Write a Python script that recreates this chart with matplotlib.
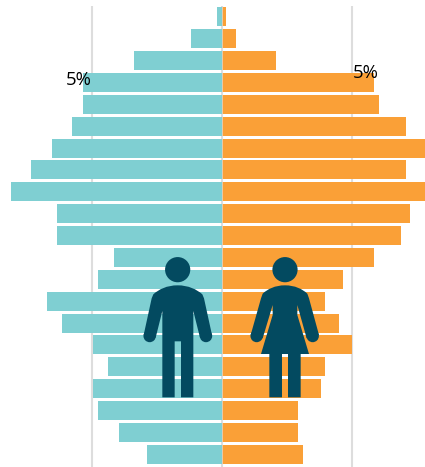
import matplotlib
matplotlib.use("Agg")
import matplotlib.pyplot as plt
from matplotlib.path import Path
from matplotlib.patches import PathPatch, Circle

plt.rcParams["font.family"] = ["Open Sans", "DejaVu Sans"]

# share of population per age band, top row first (percent)
rows = list(range(21))
male = [0.19, 1.18, 3.36, 5.35, 5.35, 5.74, 6.53, 7.33, 8.12, 6.33, 6.33,
        4.15, 4.74, 6.72, 6.14, 4.95, 4.36, 4.95, 4.74, 3.96, 2.88]
female = [0.18, 0.54, 2.09, 5.87, 6.05, 7.08, 8.1, 7.08, 8.3, 7.24, 6.91,
          5.87, 4.67, 3.97, 4.5, 5.0, 3.97, 3.81, 2.94, 2.94, 3.12]
grid_values = [-5, 0, 5]
grid_label = "5%"

TEAL = "#7fcfd2"
ORANGE = "#faa037"
DARK = "#034a60"
GRID = "#dddddd"

fig = plt.figure(figsize=(4.25, 4.67), dpi=100)
ax = fig.add_axes([0, 0, 1, 1])

ax.vlines(grid_values, -0.49, 20.6, color=GRID, linewidth=1.5, zorder=1)
ax.barh(rows, [-v for v in male], height=0.87, color=TEAL, zorder=2)
ax.barh(rows, female, height=0.87, color=ORANGE, zorder=2)
ax.vlines(0, -0.49, 20.6, color=GRID, linewidth=0.5, zorder=3)

ax.set_xlim(-8.527, 7.82)
ax.set_ylim(20.58, -0.768)
ax.axis("off")

ax.text(-5, 2.87, grid_label, ha="right", va="center", fontsize=13.4, color="black", zorder=4)
ax.text(5.03, 2.55, grid_label, ha="left", va="center", fontsize=13.4, color="black", zorder=4)

# overlay in pixel coords for the two person icons
icons = fig.add_axes([0, 0, 1, 1])
icons.set_xlim(0, 425)
icons.set_ylim(467, 0)
icons.axis("off")
icons.patch.set_alpha(0)


def px(p):
    return (p[0] / 3, 235 + p[1] / 3)


def draw_icon(head, outline, hands):
    icons.add_patch(Circle(px(head), 12.6, color=DARK, lw=0))
    for h in hands:
        icons.add_patch(Circle(px(h), 6.2, color=DARK, lw=0))
    verts = []
    codes = []
    for code, pts in outline:
        for p in pts:
            verts.append(px(p))
            codes.append(code)
    verts.append(verts[0])
    codes.append(Path.CLOSEPOLY)
    icons.add_patch(PathPatch(Path(verts, codes), facecolor=DARK, lw=0))


M, L, C = Path.MOVETO, Path.LINETO, Path.CURVE4

man = [
    (M, [(533, 151)]),
    (C, [(565, 151), (590, 163), (607, 178)]),
    (L, [(612, 190), (636, 300), (600, 308), (580, 228), (580, 487), (543, 487),
         (543, 319), (524, 319), (524, 487), (487, 487), (487, 228), (467, 308),
         (431, 300), (455, 190), (460, 178)]),
    (C, [(476, 163), (501, 151), (533, 151)]),
]
draw_icon((533, 104), man, [(618, 303), (449, 303)])

woman = [
    (M, [(855, 151)]),
    (C, [(885, 151), (907, 162), (922, 176)]),
    (L, [(927, 190), (957, 300), (920, 310), (892, 210), (892, 240), (927, 357),
         (902, 357), (902, 487), (864, 487), (864, 357), (846, 357), (846, 487),
         (808, 487), (808, 357), (783, 357), (818, 240), (818, 210), (788, 310),
         (752, 300), (783, 190), (788, 176)]),
    (C, [(803, 162), (825, 151), (855, 151)]),
]
draw_icon((855, 104), woman, [(938, 303), (770, 303)])

fig.savefig("out.png", dpi=100)
